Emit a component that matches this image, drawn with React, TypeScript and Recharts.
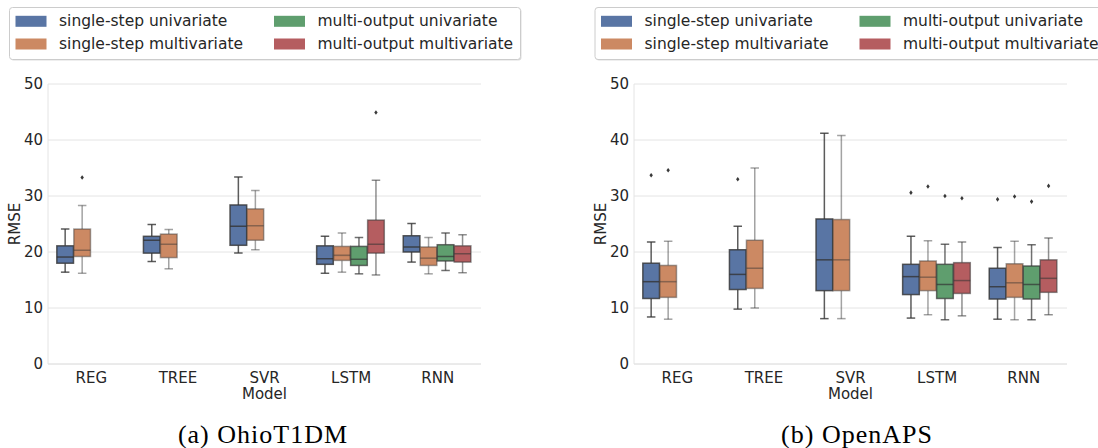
import React from 'react';
import { ComposedChart, Bar, XAxis, YAxis, CartesianGrid } from 'recharts';

const categories = ['REG', 'TREE', 'SVR', 'LSTM', 'RNN'];
const seriesNames = [
  'single-step univariate',
  'single-step multivariate',
  'multi-output univariate',
  'multi-output multivariate',
];
const hueColors = ['#5975A4', '#CC8963', '#5F9E6E', '#B55D60'];
const lineOpacity = [0.8, 0.45, 0.7, 0.55];
const yTicks = [0, 10, 20, 30, 40, 50];
const captions = ['(a) OhioT1DM', '(b) OpenAPS'];

type Stats = [number, number, number, number, number] | null; // [whiskerLow, q1, median, q3, whiskerHigh]

// ---------- OhioT1DM ----------
const ohioSingleUni: Stats[] = [
  [16.4, 18.0, 19.1, 21.1, 24.1],
  [18.3, 19.8, 22.1, 22.8, 24.9],
  [19.8, 21.2, 24.6, 28.4, 33.4],
  [16.2, 17.8, 18.8, 21.1, 22.8],
  [18.2, 20.0, 20.9, 22.9, 25.1],
];
const ohioSingleMulti: Stats[] = [
  [16.2, 19.2, 20.3, 24.1, 28.3],
  [17.0, 19.0, 21.4, 23.2, 24.0],
  [20.4, 22.1, 24.7, 27.7, 31.0],
  [16.4, 18.5, 19.4, 21.0, 23.4],
  [16.1, 17.6, 18.9, 20.9, 22.6],
];
const ohioMultiUni: Stats[] = [
  null,
  null,
  null,
  [16.1, 17.6, 18.7, 21.0, 22.6],
  [16.7, 18.4, 19.2, 21.3, 23.4],
];
const ohioMultiMulti: Stats[] = [
  null,
  null,
  null,
  [15.9, 19.8, 21.4, 25.7, 32.8],
  [16.3, 18.2, 19.7, 21.1, 23.1],
];
const ohioOutSingleUni: number[][] = [[], [], [], [], []];
const ohioOutSingleMulti: number[][] = [[33.3], [], [], [], []];
const ohioOutMultiUni: number[][] = [[], [], [], [], []];
const ohioOutMultiMulti: number[][] = [[], [], [], [44.9], []];

// ---------- OpenAPS ----------
const apsSingleUni: Stats[] = [
  [8.4, 11.7, 14.7, 18.0, 21.8],
  [9.8, 13.3, 16.0, 20.4, 24.6],
  [8.1, 13.1, 18.6, 25.9, 41.2],
  [8.2, 12.4, 15.6, 17.8, 22.8],
  [8.0, 11.6, 13.8, 17.1, 20.8],
];
const apsSingleMulti: Stats[] = [
  [8.0, 11.9, 14.7, 17.6, 21.9],
  [10.0, 13.5, 17.1, 22.1, 35.0],
  [8.1, 13.1, 18.6, 25.8, 40.8],
  [8.8, 13.1, 15.5, 18.4, 22.0],
  [7.9, 11.9, 14.5, 17.9, 21.9],
];
const apsMultiUni: Stats[] = [
  null,
  null,
  null,
  [7.9, 11.7, 14.2, 17.8, 21.4],
  [7.9, 11.6, 14.2, 17.5, 21.3],
];
const apsMultiMulti: Stats[] = [
  null,
  null,
  null,
  [8.6, 12.6, 14.9, 18.1, 21.8],
  [8.8, 12.8, 15.3, 18.6, 22.5],
];
const apsOutSingleUni: number[][] = [[33.7], [33.0], [], [30.6], [29.4]];
const apsOutSingleMulti: number[][] = [[34.6], [], [], [31.7], [29.9]];
const apsOutMultiUni: number[][] = [[], [], [], [30.0], [29.0]];
const apsOutMultiMulti: number[][] = [[], [], [], [29.6], [31.8]];

function buildRows(series: Stats[][], outliers: number[][][]) {
  return categories.map((name, i) => {
    const row: any = { name };
    series.forEach((s, k) => {
      const st = s[i];
      row[`r${k}`] = st ? [st[0], st[4]] : null;
      row[`st${k}`] = st;
      row[`o${k}`] = outliers[k][i] || [];
    });
    return row;
  });
}

const ohioRows = buildRows(
  [ohioSingleUni, ohioSingleMulti, ohioMultiUni, ohioMultiMulti],
  [ohioOutSingleUni, ohioOutSingleMulti, ohioOutMultiUni, ohioOutMultiMulti]
);
const apsRows = buildRows(
  [apsSingleUni, apsSingleMulti, apsMultiUni, apsMultiMulti],
  [apsOutSingleUni, apsOutSingleMulti, apsOutMultiUni, apsOutMultiMulti]
);

const FONT = 'DejaVu Sans, sans-serif';
const TEXT = '#262626';
const GRID = '#e4e4e4';

const makeBoxShape = (k: number) => (props: any) => {
  const { x, y, width, height, payload } = props;
  const st = payload ? payload[`st${k}`] : null;
  if (!st || !isFinite(y) || !isFinite(height) || !isFinite(x)) return <g />;
  const [lo, q1, med, q3, hi] = st as number[];
  const top = Math.min(y, y + height);
  const h = Math.abs(height);
  const py = (v: number) => (hi === lo ? top : top + (h * (hi - v)) / (hi - lo));
  const bw = width * 0.98;
  const bx = x + (width - bw) / 2;
  const cx = x + width / 2;
  const capHalf = width * 0.25;
  const stroke = '#333333';
  const so = lineOpacity[k];
  const outs: number[] = payload[`o${k}`] || [];
  return (
    <g>
      <line x1={cx} x2={cx} y1={py(hi)} y2={py(q3)} stroke={stroke} strokeOpacity={so} strokeWidth={1.5} />
      <line x1={cx} x2={cx} y1={py(q1)} y2={py(lo)} stroke={stroke} strokeOpacity={so} strokeWidth={1.5} />
      <line x1={cx - capHalf} x2={cx + capHalf} y1={py(hi)} y2={py(hi)} stroke={stroke} strokeOpacity={so} strokeWidth={1.5} />
      <line x1={cx - capHalf} x2={cx + capHalf} y1={py(lo)} y2={py(lo)} stroke={stroke} strokeOpacity={so} strokeWidth={1.5} />
      <rect x={bx} y={py(q3)} width={bw} height={py(q1) - py(q3)} fill={hueColors[k]} />
      <rect x={bx} y={py(q3)} width={bw} height={py(q1) - py(q3)} fill="none" stroke={stroke} strokeOpacity={so} strokeWidth={1.5} />
      <line x1={bx} x2={bx + bw} y1={py(med)} y2={py(med)} stroke={stroke} strokeOpacity={so} strokeWidth={1.5} />
      {outs.map((v, j) => {
        const yy = py(v);
        return (
          <path key={j} d={`M${cx},${yy - 2.3} L${cx + 1.7},${yy} L${cx},${yy + 2.3} L${cx - 1.7},${yy} Z`} fill="#3a3a3a" />
        );
      })}
    </g>
  );
};

const boxShapes = [0, 1, 2, 3].map((k) => makeBoxShape(k));

function Panel({ rows, left }: { rows: any[]; left: number }) {
  return (
    <div style={{ position: 'absolute', left, top: 0 }}>
      <ComposedChart
        width={490}
        height={448}
        data={rows}
        margin={{ top: 84, right: 9, bottom: 44, left: 0 }}
        barCategoryGap="10%"
        barGap={0}
      >
        <CartesianGrid vertical={false} stroke={GRID} strokeWidth={1} />
        <XAxis
          dataKey="name"
          type="category"
          height={40}
          interval={0}
          tickSize={0}
          tickMargin={8}
          tickLine={false}
          axisLine={{ stroke: GRID }}
          tick={{ fill: TEXT, fontSize: 15, fontFamily: FONT }}
          label={{
            content: (p: any) => {
              const vb = p.viewBox || {};
              return (
                <text x={vb.x + vb.width / 2} y={vb.y + 35} textAnchor="middle" fill={TEXT} fontSize={15} fontFamily={FONT}>
                  Model
                </text>
              );
            },
          }}
        />
        <YAxis
          domain={[0, 50]}
          ticks={yTicks}
          type="number"
          width={48}
          tickSize={0}
          tickMargin={5}
          tickLine={false}
          axisLine={{ stroke: GRID }}
          tick={{ fill: TEXT, fontSize: 15, fontFamily: FONT }}
          allowDataOverflow
          label={{
            content: (p: any) => {
              const vb = p.viewBox || {};
              const tx = vb.x + 20;
              const ty = vb.y + vb.height / 2;
              return (
                <text x={tx} y={ty} transform={`rotate(-90, ${tx}, ${ty})`} textAnchor="middle" fill={TEXT} fontSize={15} fontFamily={FONT}>
                  RMSE
                </text>
              );
            },
          }}
        />
        <YAxis
          yAxisId="r"
          orientation="right"
          domain={[0, 50]}
          type="number"
          width={0}
          tick={false}
          tickLine={false}
          axisLine={{ stroke: GRID }}
        />
        {[0, 1, 2, 3].map((k) => (
          <Bar key={k} dataKey={`r${k}`} name={seriesNames[k]} shape={boxShapes[k]} isAnimationActive={false} />
        ))}
      </ComposedChart>
    </div>
  );
}

function LegendBox({ dx }: { dx: number }) {
  const rowsY = [21.3, 44];
  const colPatch = [15.5, 274];
  const colText = [59, 317.5];
  const order = [
    [0, 0],
    [0, 1],
    [1, 0],
    [1, 1],
  ];
  return (
    <g transform={`translate(${dx},0)`}>
      <rect x={10.5} y={8.5} width={511} height={52} rx={3} ry={3} fill="#bbbbbb" opacity={0.5} />
      <rect x={9.5} y={7.5} width={511} height={52} rx={3} ry={3} fill="#ffffff" stroke="#cccccc" strokeWidth={1} />
      {order.map(([c, r], k) => (
        <g key={k}>
          <rect x={colPatch[c]} y={rowsY[r] - 5.5} width={31} height={11} fill={hueColors[k]} />
          <text x={colText[c]} y={rowsY[r]} dominantBaseline="central" fill={TEXT} fontSize={15.5} fontFamily={FONT}>
            {seriesNames[k]}
          </text>
        </g>
      ))}
    </g>
  );
}

export default function App() {
  return (
    <div
      style={{
        position: 'absolute',
        left: 0,
        top: 0,
        width: 1098,
        height: 448,
        overflow: 'hidden',
        background: '#ffffff',
      }}
    >
      <svg width={1098} height={448} style={{ position: 'absolute', left: 0, top: 0 }}>
        <LegendBox dx={0} />
        <LegendBox dx={585.5} />
        <text x={263} y={443} textAnchor="middle" fill="#000" fontSize={26} letterSpacing={1} fontFamily="Liberation Serif, serif">
          {captions[0]}
        </text>
        <text x={857} y={443} textAnchor="middle" fill="#000" fontSize={26} letterSpacing={1} fontFamily="Liberation Serif, serif">
          {captions[1]}
        </text>
      </svg>
      <Panel rows={ohioRows} left={0} />
      <Panel rows={apsRows} left={586} />
    </div>
  );
}
